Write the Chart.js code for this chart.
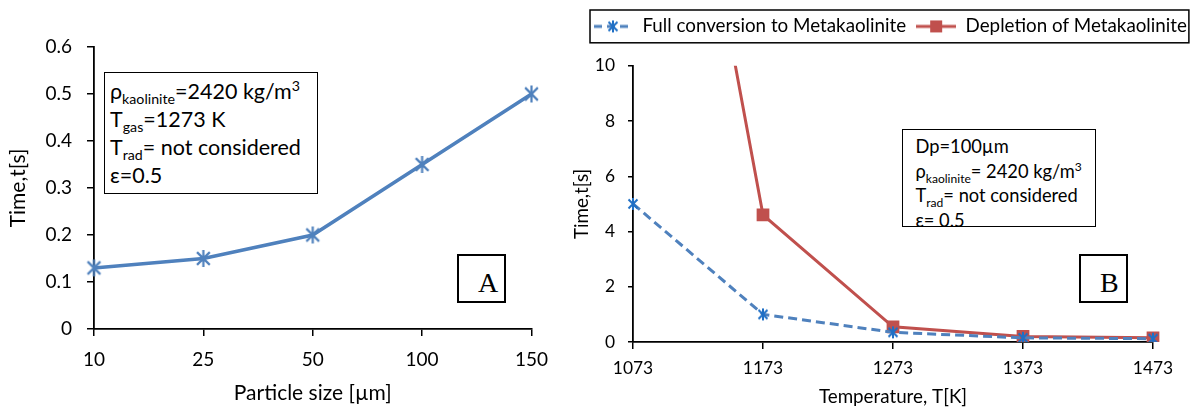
<!DOCTYPE html>
<html>
<head>
<meta charset="utf-8">
<script src="https://cdn.jsdelivr.net/npm/chart.js@4.4.1/dist/chart.umd.min.js"></script>
<style>
  html, body { margin: 0; padding: 0; background: #fff; overflow: hidden; }
  #wrap { position: relative; width: 1195px; height: 407px; font-family: Lato, sans-serif; overflow: hidden; }
  canvas { position: absolute; top: 0; }
  #chartA { left: 0; }
  #chartB { left: 560px; }
  .note { position: absolute; border: 1.5px solid #000; background: #fff; color: #000; box-sizing: border-box; overflow: hidden; white-space: nowrap; }
  .note sub, .note sup { font-size: 0.66em; line-height: 0; }
  #noteA { left: 104px; top: 72px; width: 214px; height: 122px; font-size: 21.5px; line-height: 28px; padding: 4px 0 0 5px; }
  #noteB { left: 902px; top: 129px; width: 194px; height: 98px; font-size: 18.3px; line-height: 24.5px; padding: 4px 0 0 12.5px; }
  .tag { position: absolute; width: 49px; height: 49px; border: 2px solid #000; box-sizing: border-box; background: #fff;
         font-family: 'Liberation Serif', 'Times New Roman', serif; font-size: 28px; line-height: 28px; padding: 13px 0 0 19px; }
  #tagA { left: 457px; top: 254px; }
  #tagB { left: 1079px; top: 254px; }
</style>
</head>
<body>
<div id="wrap">
  <canvas id="chartA" width="560" height="407"></canvas>
  <canvas id="chartB" width="660" height="407"></canvas>

  <div class="note" id="noteA">
    ρ<sub>kaolinite</sub>=2420 kg/m<sup>3</sup><br>
    T<sub>gas</sub>=1273 K<br>
    T<sub>rad</sub>= not considered<br>
    ε=0.5
  </div>
  <div class="tag" id="tagA">A</div>

  <div class="note" id="noteB">
    Dp=100µm<br>
    ρ<sub>kaolinite</sub>= 2420 kg/m<sup>3</sup><br>
    T<sub>rad</sub>= not considered<br>
    ε= 0.5
  </div>
  <div class="tag" id="tagB">B</div>
</div>

<script>
// chart A: particle size
const particleSizes = ['10', '25', '50', '100', '150'];
const timeBySize = [0.13, 0.15, 0.2, 0.35, 0.5];
const yTicksA = ['0', '0.1', '0.2', '0.3', '0.4', '0.5', '0.6'];

// chart B: temperature
const temperatures = ['1073', '1173', '1273', '1373', '1473'];
const fullConversion = [5.0, 1.0, 0.35, 0.15, 0.12];
const depletion = [30, 4.6, 0.55, 0.2, 0.15];
const yTicksB = ['0', '2', '4', '6', '8', '10'];

const BLUE = '#4F81BD';
const BLUE_MARK = '#1F6FC5';
const RED = '#C0504D';
const FONT = 'Lato, sans-serif';

Chart.defaults.color = '#000';
Chart.defaults.font.family = FONT;

/* excel style asterisk: vertical bar + X */
function starMarker(size, color, lw) {
    const c = document.createElement('canvas');
    c.width = size; c.height = size;
    const g = c.getContext('2d');
    const m = size / 2, r = size / 2 - 1, d = r * 0.75;
    g.strokeStyle = color;
    g.lineWidth = lw;
    g.beginPath();
    g.moveTo(m, m - r); g.lineTo(m, m + r);
    g.moveTo(m - d, m - d); g.lineTo(m + d, m + d);
    g.moveTo(m + d, m - d); g.lineTo(m - d, m + d);
    g.stroke();
    return c;
}

function legendSymbol(kind) {
    const c = document.createElement('canvas');
    c.width = 40; c.height = 16;
    const g = c.getContext('2d');
    g.lineWidth = 3;
    if (kind === 'dash') {
        g.strokeStyle = BLUE;
        g.setLineDash([8, 5]);
        g.beginPath(); g.moveTo(1, 8); g.lineTo(39, 8); g.stroke();
        g.setLineDash([]);
        g.drawImage(starMarker(14, BLUE_MARK, 2), 13, 1);
    } else {
        g.strokeStyle = RED;
        g.beginPath(); g.moveTo(0, 8); g.lineTo(40, 8); g.stroke();
        g.fillStyle = RED;
        g.fillRect(14, 2, 12, 12);
    }
    return c;
}

const axisBorder = { color: '#000', width: 1.8 };

new Chart(document.getElementById('chartA'), {
    type: 'line',
    data: {
        labels: particleSizes,
        datasets: [{
            data: timeBySize,
            borderColor: BLUE,
            borderWidth: 3.5,
            tension: 0,
            pointStyle: starMarker(19, BLUE, 2.2),
            pointRadius: 9
        }]
    },
    options: {
        responsive: false,
        animation: false,
        events: [],
        layout: { padding: { left: 0, right: 26, top: 47, bottom: 0 } },
        plugins: { legend: { display: false }, tooltip: { enabled: false } },
        scales: {
            x: {
                offset: false,
                border: axisBorder,
                grid: { drawOnChartArea: false, color: '#000', lineWidth: 1.5, tickLength: 7 },
                ticks: { font: { size: 19 }, padding: 12, maxRotation: 0 },
                title: { display: true, text: 'Particle size [µm]', font: { size: 21 }, padding: { top: 0, bottom: 1.5 } },
                afterFit: (s) => { s.height = 78; }
            },
            y: {
                min: 0, max: 0.6,
                border: axisBorder,
                grid: { drawOnChartArea: false, color: '#000', lineWidth: 1.5, tickLength: 7 },
                ticks: { stepSize: 0.1, font: { size: 19 }, padding: 15, callback: (v, i) => yTicksA[i] },
                title: { display: true, text: 'Time,t[s]', font: { size: 21 }, padding: { top: 5.4, bottom: 0 } },
                afterFit: (s) => { s.width = 94; }
            }
        }
    }
});

const legendFrame = {
    id: 'legendFrame',
    afterDraw(chart) {
        const boxes = chart.legend.legendHitBoxes;
        if (!boxes || !boxes.length) return;
        const first = boxes[0], last = boxes[boxes.length - 1];
        const ctx = chart.ctx;
        ctx.save();
        ctx.strokeStyle = '#000';
        ctx.lineWidth = 1.5;
        ctx.strokeRect(first.left - 3, first.top - 7, last.left + last.width - first.left + 5, first.height + 14);
        ctx.restore();
    }
};

const legendImages = [legendSymbol('dash'), legendSymbol('solid')];

new Chart(document.getElementById('chartB'), {
    type: 'line',
    data: {
        labels: temperatures,
        datasets: [{
            label: 'Full conversion to Metakaolinite',
            data: fullConversion,
            borderColor: BLUE,
            borderWidth: 3,
            borderDash: [9, 5],
            tension: 0,
            pointStyle: starMarker(14, BLUE_MARK, 2),
            pointRadius: 7
        }, {
            label: 'Depletion of Metakaolinite',
            data: depletion,
            borderColor: RED,
            backgroundColor: RED,
            borderWidth: 3,
            tension: 0,
            pointStyle: 'rect',
            pointRadius: 9,
            pointBorderWidth: 0
        }]
    },
    options: {
        responsive: false,
        animation: false,
        events: [],
        layout: { padding: { left: 23, right: 0, top: 7, bottom: 0 } },
        plugins: {
            tooltip: { enabled: false },
            legend: {
                position: 'top',
                align: 'start',
                weight: 3000,
                labels: {
                    usePointStyle: true,
                    pointStyleWidth: 40,
                    padding: 10,
                    font: { size: 18.8 },
                    color: '#000',
                    generateLabels: (chart) => {
                        const items = Chart.defaults.plugins.legend.labels.generateLabels(chart);
                        items.forEach((it, i) => { it.pointStyle = legendImages[i]; });
                        return items;
                    }
                }
            },
            // empty title used as a gap between legend and plot
            title: { display: true, text: '', font: { size: 10 }, padding: { top: 0, bottom: 8 } }
        },
        scales: {
            x: {
                offset: false,
                border: axisBorder,
                grid: { drawOnChartArea: false, color: '#000', lineWidth: 1.5, tickLength: 7 },
                ticks: { font: { size: 17.4 }, padding: 8.5, maxRotation: 0 },
                title: { display: true, text: 'Temperature, T[K]', font: { size: 18.8 }, padding: { top: 0, bottom: -1.3 } },
                afterFit: (s) => { s.height = 65; }
            },
            y: {
                min: 0, max: 10,
                border: axisBorder,
                grid: { drawOnChartArea: false, color: '#000', lineWidth: 1.5, tickLength: 5 },
                ticks: { stepSize: 2, font: { size: 17.4 }, padding: 13, callback: (v, i) => yTicksB[i] },
                title: { display: true, text: 'Time,t[s]', font: { size: 18.8 }, padding: { top: -12.3, bottom: 0 } },
                afterFit: (s) => { s.width = 50; }
            },
            // blank right axis, only keeps the plot narrower than the legend row
            yRight: {
                position: 'right',
                display: true,
                grid: { display: false, drawTicks: false },
                border: { display: false },
                ticks: { display: false },
                afterFit: (s) => { s.width = 67; }
            }
        }
    },
    plugins: [legendFrame]
});
</script>
</body>
</html>
